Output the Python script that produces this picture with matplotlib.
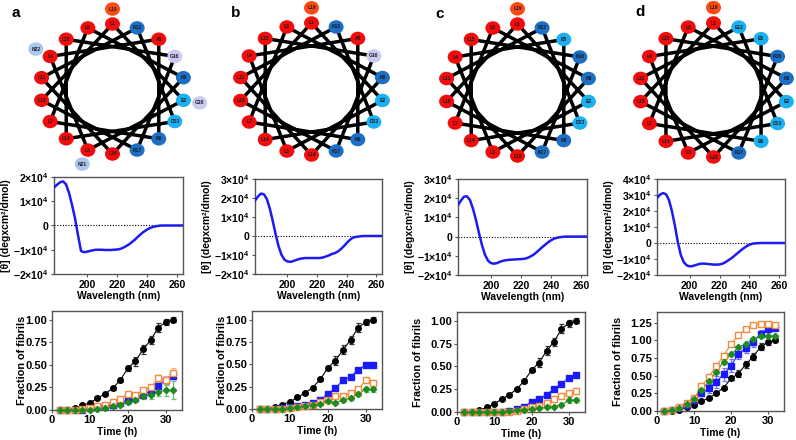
import numpy as np
import matplotlib
matplotlib.use('Agg')
import matplotlib.pyplot as plt
from matplotlib.patches import Ellipse
from matplotlib.ticker import FuncFormatter, MultipleLocator

plt.rcParams['font.family'] = ['Liberation Sans', 'DejaVu Sans']
plt.rcParams['font.weight'] = 'bold'
plt.rcParams['axes.labelweight'] = 'bold'
plt.rcParams['mathtext.fontset'] = 'custom'
plt.rcParams['mathtext.rm'] = 'Liberation Sans:bold'
plt.rcParams['mathtext.bf'] = 'Liberation Sans:bold'
plt.rcParams['mathtext.it'] = 'Liberation Sans:bold:italic'

W, H = 796, 440

# ---------------- data ----------------
panel_letters = ['a', 'b', 'c', 'd']

seq_a = ['L1', 'E2', 'L3', 'L4', 'A5', 'K6', 'L7', 'L8', 'K9', 'L10', 'L11', 'K12', 'D13',
         'L14', 'L15', 'G16', 'K17', 'L18', 'L19', 'G20', 'N21', 'N22']
seq_b = ['L1', 'E2', 'L3', 'L4', 'A5', 'K6', 'L7', 'L8', 'K9', 'L10', 'L11', 'K12', 'D13',
         'L14', 'L15', 'G16', 'K17', 'L18', 'L19']
seq_c = ['L1', 'E2', 'L3', 'L4', 'E5', 'K6', 'L7', 'L8', 'K9', 'L10', 'L11', 'K12', 'D13',
         'L14', 'L15', 'K16', 'K17', 'L18', 'L19']
seq_d = ['L1', 'E2', 'L3', 'L4', 'E5', 'E6', 'L7', 'L8', 'K9', 'L10', 'L11', 'E12', 'D13',
         'L14', 'L15', 'K16', 'K17', 'L18', 'L19']

wavelength = np.arange(178, 266, 2)
cd_a = [1.57, 1.68, 1.78, 1.82, 1.70, 1.35, 0.85, 0.30, -0.40, -1.05, -1.10, -1.08, -1.05, -1.02,
        -1.00, -1.00, -1.00, -1.01, -1.01, -1.01, -1.00, -0.99, -0.97, -0.92, -0.85, -0.78, -0.68,
        -0.58, -0.46, -0.35, -0.25, -0.17, -0.10, -0.06, -0.03, -0.01, 0.00, 0.00, 0.00, 0.00,
        0.00, 0.00, 0.00, 0.00]
cd_b = [1.86, 2.08, 2.23, 2.20, 1.95, 1.45, 0.80, 0.08, -0.55, -1.00, -1.25, -1.34, -1.36, -1.32,
        -1.26, -1.21, -1.18, -1.16, -1.16, -1.16, -1.16, -1.16, -1.16, -1.13, -1.08, -1.02, -0.95,
        -0.90, -0.82, -0.70, -0.55, -0.38, -0.22, -0.10, -0.05, -0.03, -0.01, 0.00, 0.00, 0.00,
        0.00, 0.00, 0.00, 0.00]
cd_c = [1.64, 1.88, 2.08, 2.10, 1.90, 1.45, 0.85, 0.18, -0.45, -0.95, -1.25, -1.38, -1.41, -1.38,
        -1.31, -1.26, -1.23, -1.21, -1.20, -1.19, -1.18, -1.17, -1.16, -1.12, -1.05, -0.96, -0.84,
        -0.70, -0.56, -0.43, -0.30, -0.19, -0.11, -0.06, -0.03, -0.01, 0.00, 0.00, 0.00, 0.00,
        0.00, 0.00, 0.00, 0.00]
cd_d = [2.81, 3.02, 3.12, 3.05, 2.70, 2.00, 1.10, 0.05, -0.75, -1.20, -1.40, -1.46, -1.44, -1.38,
        -1.32, -1.29, -1.29, -1.31, -1.33, -1.35, -1.35, -1.34, -1.29, -1.20, -1.08, -0.95, -0.80,
        -0.64, -0.49, -0.34, -0.21, -0.11, -0.05, -0.02, -0.01, 0.00, 0.00, 0.00, 0.00, 0.00,
        0.00, 0.00, 0.00, 0.00]
cd_ymax = [2, 3, 3, 4]  # x 10^4

time_h = np.arange(2, 34, 2)

black_a = [0.00, 0.005, 0.02, 0.05, 0.08, 0.13, 0.18, 0.24, 0.33, 0.46, 0.54, 0.67, 0.77, 0.91, 0.97, 1.00]
blue_a = [0.00, 0.00, 0.00, 0.005, 0.02, 0.03, 0.04, 0.06, 0.08, 0.11, 0.13, 0.17, 0.21, 0.27, 0.33, 0.38]
orange_a = [0.00, 0.00, 0.005, 0.01, 0.02, 0.04, 0.06, 0.09, 0.12, 0.18, 0.17, 0.22, 0.25, 0.35, 0.33, 0.41]
green_a = [0.00, 0.00, 0.00, 0.00, 0.005, 0.01, 0.02, 0.04, 0.06, 0.09, 0.11, 0.15, 0.17, 0.20, 0.22, 0.22]

black_b = [0.00, 0.005, 0.02, 0.05, 0.08, 0.13, 0.18, 0.24, 0.33, 0.46, 0.54, 0.66, 0.77, 0.91, 0.97, 1.00]
blue_b = [0.00, 0.00, 0.00, 0.01, 0.02, 0.03, 0.05, 0.07, 0.10, 0.17, 0.23, 0.32, 0.36, 0.44, 0.49, 0.49]
orange_b = [0.00, 0.00, 0.00, 0.00, 0.01, 0.02, 0.03, 0.05, 0.08, 0.10, 0.14, 0.14, 0.18, 0.22, 0.32, 0.29]
green_b = [0.00, 0.00, 0.00, 0.00, 0.01, 0.02, 0.03, 0.05, 0.06, 0.09, 0.07, 0.10, 0.12, 0.17, 0.22, 0.22]

black_c = [0.00, 0.005, 0.02, 0.05, 0.09, 0.14, 0.19, 0.25, 0.34, 0.46, 0.54, 0.67, 0.77, 0.91, 0.97, 1.00]
blue_c = [0.00, 0.00, 0.00, 0.00, 0.00, 0.005, 0.01, 0.03, 0.06, 0.11, 0.14, 0.19, 0.25, 0.31, 0.37, 0.41]
orange_c = [0.00, 0.00, 0.00, 0.00, 0.00, 0.00, 0.005, 0.01, 0.03, 0.05, 0.07, 0.10, 0.14, 0.18, 0.21, 0.23]
green_c = [0.00, 0.00, 0.00, 0.00, 0.00, 0.00, 0.01, 0.02, 0.02, 0.03, 0.04, 0.05, 0.06, 0.08, 0.13, 0.13]

black_d = [0.00, 0.005, 0.02, 0.05, 0.09, 0.14, 0.18, 0.25, 0.33, 0.46, 0.53, 0.66, 0.77, 0.91, 0.97, 1.00]
blue_d = [0.00, 0.01, 0.04, 0.08, 0.15, 0.25, 0.32, 0.41, 0.52, 0.64, 0.81, 0.89, 0.98, 1.09, 1.16, 1.17]
orange_d = [0.00, 0.01, 0.05, 0.12, 0.18, 0.35, 0.48, 0.64, 0.78, 0.95, 1.07, 1.16, 1.22, 1.23, 1.23, 1.22]
green_d = [0.00, 0.01, 0.04, 0.10, 0.17, 0.30, 0.42, 0.55, 0.70, 0.80, 0.90, 0.95, 1.02, 1.06, 1.06, 1.06]

err_black = [0.005, 0.005, 0.01, 0.01, 0.015, 0.01, 0.015, 0.015, 0.02, 0.025, 0.05, 0.05, 0.045, 0.05, 0.035, 0.03]
err_blue_a = [0, 0, 0, 0, 0.01, 0.01, 0.01, 0.01, 0.015, 0.015, 0.02, 0.02, 0.03, 0.03, 0.04, 0.04]
err_orange_a = [0, 0, 0, 0, 0.01, 0.01, 0.01, 0.01, 0.015, 0.02, 0.02, 0.02, 0.03, 0.04, 0.04, 0.05]
err_green_a = [0, 0, 0, 0, 0.005, 0.01, 0.01, 0.01, 0.015, 0.02, 0.02, 0.03, 0.05, 0.05, 0.06, 0.10]
err_blue_b = [0, 0, 0, 0, 0.005, 0.01, 0.01, 0.01, 0.01, 0.01, 0.015, 0.015, 0.02, 0.02, 0.02, 0.02]
err_orange_b = [0, 0, 0, 0, 0.005, 0.01, 0.01, 0.01, 0.01, 0.015, 0.02, 0.02, 0.02, 0.03, 0.03, 0.03]
err_green_b = [0, 0, 0, 0, 0.005, 0.01, 0.01, 0.01, 0.01, 0.015, 0.015, 0.02, 0.02, 0.03, 0.03, 0.03]
err_blue_c = [0, 0, 0, 0, 0, 0.005, 0.005, 0.01, 0.01, 0.01, 0.01, 0.015, 0.02, 0.02, 0.02, 0.02]
err_orange_c = [0, 0, 0, 0, 0, 0.005, 0.005, 0.01, 0.01, 0.01, 0.01, 0.015, 0.015, 0.02, 0.02, 0.03]
err_green_c = [0, 0, 0, 0, 0, 0.005, 0.005, 0.005, 0.01, 0.01, 0.01, 0.01, 0.01, 0.015, 0.03, 0.02]
err_blue_d = [0, 0.005, 0.01, 0.02, 0.03, 0.04, 0.06, 0.08, 0.09, 0.09, 0.07, 0.07, 0.07, 0.05, 0.04, 0.03]
err_orange_d = [0, 0.005, 0.01, 0.02, 0.02, 0.03, 0.03, 0.02, 0.02, 0.03, 0.02, 0.02, 0.02, 0.02, 0.02, 0.02]
err_green_d = [0, 0.005, 0.01, 0.02, 0.02, 0.03, 0.03, 0.03, 0.03, 0.02, 0.02, 0.02, 0.02, 0.02, 0.02, 0.02]

fib_ymax = [1.095, 1.095, 1.095, 1.40]
fib_yticks_max = [1.0, 1.0, 1.0, 1.25]

# ---------------- helpers ----------------
def rect(l, t, r, b):
    return [l / W, 1 - b / H, (r - l) / W, (b - t) / H]

res_colors = {'L': '#f20c0c', 'A': '#f20c0c', 'K': '#1c6fc4', 'E': '#1ab0f2',
              'D': '#1ab0f2', 'G': '#cacaf2', 'N': '#a8c6ee'}
outer_L = '#ff4a14'

fig = plt.figure(figsize=(W / 100, H / 100), dpi=100)

# ---------------- helical wheels ----------------
wheel_geo = [(112.5, 89, 72, 65), (311.5, 89, 72, 66), (517.5, 90, 72, 66), (713.5, 90, 74, 67)]
seqs = [seq_a, seq_b, seq_c, seq_d]
for (cx, cy, rx, ry), seq in zip(wheel_geo, seqs):
    ax = fig.add_axes(rect(cx - 100, cy - 90, cx + 100, cy + 90))
    ax.set_xlim(-100, 100)
    ax.set_ylim(-90, 90)
    ax.axis('off')
    ax.patch.set_visible(False)
    idx = np.arange(len(seq))
    ang = np.deg2rad(90 - idx * 100)
    rad = np.where(idx < 18, 1.0, 1.23)
    xs = rx * rad * np.cos(ang)
    ys = ry * rad * np.sin(ang)
    order = list(range(18)) + [0]
    ax.plot(xs[order], ys[order], color='black', lw=2.5, solid_joinstyle='round', zorder=1)
    for i, lab in enumerate(seq):
        col = res_colors[lab[0]]
        if i >= 18 and lab[0] == 'L':
            col = outer_L
        ax.add_patch(Ellipse((xs[i], ys[i]), 15, 13.5, facecolor=col, edgecolor='none', zorder=2))
        ax.text(xs[i], ys[i], lab, ha='center', va='center', fontsize=3.6, color='#1a1a1a',
                fontweight='bold', zorder=3)

letter_pos = [(16, 13), (236, 13), (440, 14), (640, 12)]
for (lx, ly), let in zip(letter_pos, panel_letters):
    fig.text(lx / W, 1 - ly / H, let, ha='center', va='center', fontsize=11, fontweight='bold')

# ---------------- CD spectra ----------------
def sci_fmt(v, pos):
    k = int(round(v / 1e4))
    if k == 0:
        return '0'
    return r'$\mathbf{%d{\times}10^{4}}$' % k

cd_rects = [(54, 177, 183, 274), (255, 179, 382, 274), (458, 179, 587, 275), (657, 179, 785, 275)]
cd_data = [cd_a, cd_b, cd_c, cd_d]
spine_col = '#555555'
for (l, t, r, b), vals, ymax in zip(cd_rects, cd_data, cd_ymax):
    ax = fig.add_axes(rect(l, t, r, b))
    ax.plot(wavelength, np.array(vals) * 1e4, color='#1c1cf0', lw=1.8, zorder=3)
    ax.axhline(0, color='black', lw=0.8, ls=(0, (1, 1.5)), zorder=2)
    ax.set_xlim(178, 264)
    ax.set_ylim(-2e4, ymax * 1e4)
    ax.set_xticks([200, 220, 240, 260])
    ax.yaxis.set_major_locator(MultipleLocator(1e4))
    ax.yaxis.set_major_formatter(FuncFormatter(sci_fmt))
    ax.tick_params(axis='both', direction='out', length=2.5, width=0.8, pad=1.5,
                   labelsize=7.5, color=spine_col)
    for s in ax.spines.values():
        s.set_color(spine_col)
        s.set_linewidth(1.0)
    hpx = b - t
    wpx = r - l
    ax.set_xlabel('Wavelength (nm)', fontsize=7.5, fontweight='bold', va='center')
    ax.xaxis.set_label_coords(0.5, -22 / hpx)
    ax.set_ylabel('[θ] (degxcm²/dmol)', fontsize=7.5, fontweight='bold', va='center')
    ax.yaxis.set_label_coords(-48 / wpx, 0.5)

# ---------------- fibril kinetics ----------------
fib_rects = [(52, 311, 182, 410), (252, 311, 382, 409), (457, 312, 585, 412), (657, 312, 784, 411)]
fib_series = [
    [(black_a, err_black), (blue_a, err_blue_a), (orange_a, err_orange_a), (green_a, err_green_a)],
    [(black_b, err_black), (blue_b, err_blue_b), (orange_b, err_orange_b), (green_b, err_green_b)],
    [(black_c, err_black), (blue_c, err_blue_c), (orange_c, err_orange_c), (green_c, err_green_c)],
    [(black_d, err_black), (blue_d, err_blue_d), (orange_d, err_orange_d), (green_d, err_green_d)],
]
styles = [
    dict(color='black', marker='o', mfc='black', mec='black', ms=4.0, ecolor='#333333'),
    dict(color='#1a1aff', marker='s', mfc='#1a1aff', mec='#1a1aff', ms=3.7, ecolor='#6f6fff'),
    dict(color='#f5893a', marker='s', mfc='white', mec='#f5893a', ms=3.7, ecolor='#f7b07c'),
    dict(color='#1f8a1f', marker='D', mfc='#1f8a1f', mec='#1f8a1f', ms=3.2, ecolor='#74bb74'),
]
ylab_off = [-30, -30, -39, -39]
for k, ((l, t, r, b), series) in enumerate(zip(fib_rects, fib_series)):
    ax = fig.add_axes(rect(l, t, r, b))
    order = [0, 3, 1, 2] if k < 3 else [0, 1, 3, 2]
    for j in order:
        vals, err = series[j]
        st = styles[j]
        ax.plot(time_h, vals, color=st['color'], lw=0.8, zorder=2 + j * 0.1, clip_on=False)
        ax.errorbar(time_h, vals, yerr=err, fmt='none', ecolor=st['ecolor'], elinewidth=0.9,
                    capsize=1.8, capthick=0.9, zorder=2.5 + j * 0.1, clip_on=False)
        ax.plot(time_h, vals, ls='none', marker=st['marker'], mfc=st['mfc'], mec=st['mec'],
                ms=st['ms'], mew=1.0, zorder=3 + j * 0.1, clip_on=False)
    ax.set_xlim(0, 34.3)
    ax.set_ylim(0, fib_ymax[k])
    ax.set_xticks([0, 10, 20, 30])
    ax.set_yticks(np.arange(0, fib_yticks_max[k] + 0.01, 0.25))
    ax.yaxis.set_major_formatter(FuncFormatter(lambda v, p: '%.2f' % v))
    ax.tick_params(axis='both', direction='out', length=2.5, width=0.8, pad=1.0,
                   labelsize=8, color=spine_col)
    for s in ax.spines.values():
        s.set_color(spine_col)
        s.set_linewidth(1.0)
    hpx = b - t
    wpx = r - l
    ax.set_xlabel('Time (h)', fontsize=7.5, fontweight='bold', va='center')
    ax.xaxis.set_label_coords(0.5, -22 / hpx)
    ax.set_ylabel('Fraction of fibrils', fontsize=7.8, fontweight='bold', va='center')
    ax.yaxis.set_label_coords(ylab_off[k] / wpx, 0.5)

fig.savefig('out.png', dpi=100)
